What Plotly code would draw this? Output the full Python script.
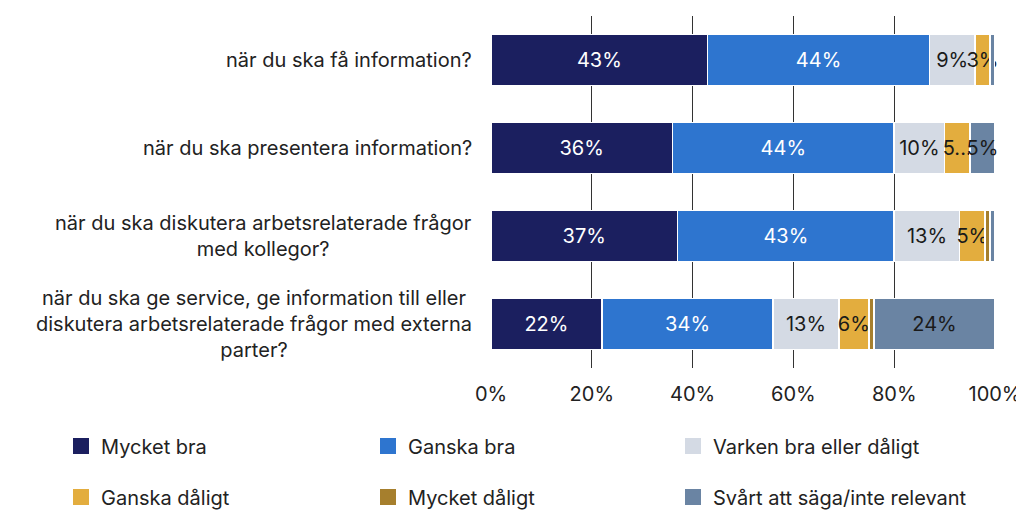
import plotly.graph_objects as go

categories = [
    "när du ska få information?",
    "när du ska presentera information?",
    "när du ska diskutera arbetsrelaterade frågor<br>med kollegor?",
    "när du ska ge service, ge information till eller<br>diskutera arbetsrelaterade frågor med externa<br>parter?",
]
series_names = [
    "Mycket bra", "Ganska bra", "Varken bra eller dåligt",
    "Ganska dåligt", "Mycket dåligt", "Svårt att säga/inte relevant",
]
mycket_bra = [43, 36, 37, 22]
ganska_bra = [44, 44, 43, 34]
varken = [9, 10, 13, 13]
ganska_daligt = [3, 5, 5, 6]
mycket_daligt = [0, 0, 1, 1]
svart = [1, 5, 1, 24]

series_values = [mycket_bra, ganska_bra, varken, ganska_daligt, mycket_daligt, svart]
colors = ["#1b1f5f", "#2e75cf", "#d4dae4", "#e3ad3e", "#a67f2d", "#6a84a3"]
text_colors = ["white", "white", "#1a1a1a", "#1a1a1a", "#1a1a1a", "#1a1a1a"]

FONT = "Inter"
FS = 20
W, H = 1016, 502   # page body adds an 8px margin
y_idx = list(range(len(categories)))

# legend slots: 3 columns x 2 rows (figure px)
leg_x = [53, 360, 665]
leg_y = [438, 489]


def seg_label(s, j):
    v = series_values[s][j]
    if v < 3:
        return ""
    # narrow segment followed by another labelled one -> truncated like the source
    nxt = next((series_values[k][j] for k in range(s + 1, len(series_values))
                if series_values[k][j] > 0), 0)
    if v <= 5 and nxt >= 3:
        return f"{v}..."
    return f"{v}%"


fig = go.Figure()
for i, (name, vals) in enumerate(zip(series_names, series_values)):
    fig.add_trace(go.Bar(
        y=y_idx, x=vals, name=name, orientation="h", showlegend=False,
        marker=dict(color=colors[i], line=dict(color="white", width=1.5)),
        text=[seg_label(i, j) for j in y_idx],
        textposition="inside", insidetextanchor="middle", textangle=0,
        textfont=dict(family=FONT, size=FS, color=text_colors[i]),
        cliponaxis=False,
    ))
    # legend entry with a larger square swatch
    lname = "legend" if i == 0 else f"legend{i + 1}"
    fig.add_trace(go.Scatter(
        x=[None], y=[None], mode="markers", name=name, legend=lname,
        marker=dict(symbol="square", size=16, color=colors[i]),
        showlegend=True,
    ))
    fig.update_layout({lname: dict(
        xref="container", yref="container",
        x=leg_x[i % 3] / W, y=1 - leg_y[i // 3] / H,
        xanchor="left", yanchor="middle",
        font=dict(family=FONT, size=FS, color="#222222"),
        bgcolor="rgba(0,0,0,0)",
    )})

# category labels, centred multi-line blocks
for j, cat in enumerate(categories):
    fig.add_annotation(
        x=0, xref="paper", y=j, yref="y", text=cat, showarrow=False,
        xanchor="right", align="center", xshift=-17,
        font=dict(family=FONT, size=FS, color="#222222"),
    )

fig.update_layout(
    width=W, height=H,
    barmode="stack", bargap=0.42,
    paper_bgcolor="white", plot_bgcolor="white",
    margin=dict(l=483, r=29, t=8, b=142, autoexpand=False),
    uniformtext=dict(minsize=FS, mode="show"),
    font=dict(family=FONT, size=FS, color="#222222"),
)
fig.update_xaxes(
    range=[0, 100], tickvals=[0, 20, 40, 60, 80, 100],
    ticktext=["0%", "20%", "40%", "60%", "80%", "100%"],
    showgrid=True, gridcolor="#333333", gridwidth=1,
    zeroline=False, showline=False, ticks="", ticklabelstandoff=12,
    tickfont=dict(family=FONT, size=FS, color="#222222"), automargin=False,
)
fig.update_yaxes(
    range=[3.5, -0.5], showticklabels=False, showgrid=False, zeroline=False,
    automargin=False,
)

fig.write_html("out.html")
